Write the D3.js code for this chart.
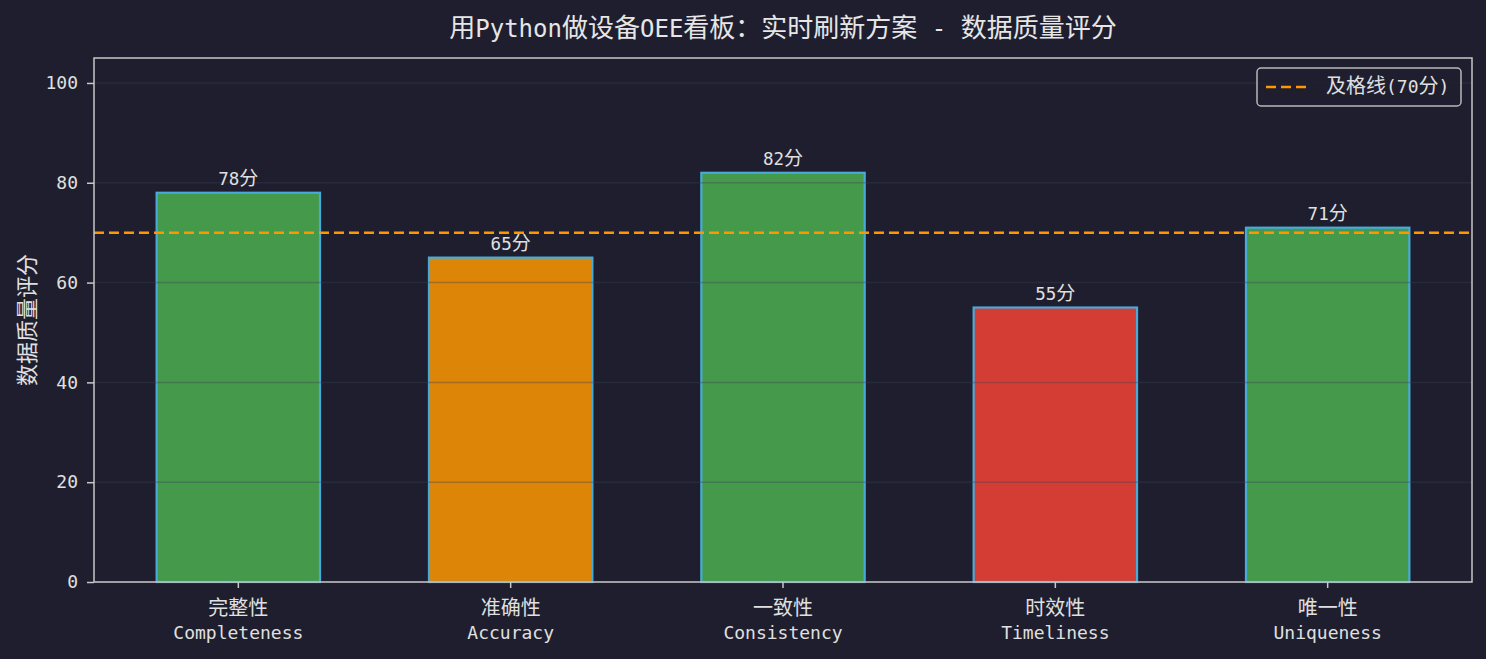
<!DOCTYPE html>
<html>
<head>
<meta charset="utf-8">
<script src="https://cdn.jsdelivr.net/npm/d3@7"></script>
<style>
  html, body { margin: 0; padding: 0; background: #1e1e2e; }
  svg { display: block; }
</style>
</head>
<body>
<div id="main"></div>
<script>
// chart data
const categoriesCn = ['完整性', '准确性', '一致性', '时效性', '唯一性'];
const categoriesEn = ['Completeness', 'Accuracy', 'Consistency', 'Timeliness', 'Uniqueness'];
const scores = [78, 65, 82, 55, 71];
const passLine = 70;
const yTicks = [0, 20, 40, 60, 80, 100];

const titleText = '用Python做设备OEE看板：实时刷新方案 - 数据质量评分';
const yLabelText = '数据质量评分';
const legendText = '及格线(70分)';

const width = 1486, height = 659;
const margin = { top: 58, right: 14, bottom: 77, left: 94 };
const plotW = width - margin.left - margin.right;
const plotH = height - margin.top - margin.bottom;

const textColor = '#e0e0e0';
const spineColor = '#c8c8c8';
const latinFont = '"DejaVu Sans Mono", monospace';
const cjkFont = '"Noto Sans CJK SC", sans-serif';

// colour by score band
function scoreColor(v) {
    if (v >= 70) return '#4CAF50';
    if (v >= 60) return '#FF9800';
    return '#F44336';
}

// write a string as tspans, CJK runs and latin runs get their own font
function mixText(sel, str, cjkSize, latinSize) {
    const parts = str.split(/([\x00-\x7F]+)/).filter(s => s.length);
    parts.forEach(p => {
        const latin = /^[\x00-\x7F]+$/.test(p);
        sel.append('tspan')
            .attr('font-family', latin ? latinFont : cjkFont)
            .attr('font-size', latin ? latinSize : cjkSize)
            .text(p);
    });
    return sel;
}

const svg = d3.select('#main')
    .append('svg')
    .attr('width', width)
    .attr('height', height)
    .style('background', '#1e1e2e');

const g = svg.append('g')
    .attr('transform', `translate(${margin.left},${margin.top})`);

const xScale = d3.scaleBand()
    .domain(d3.range(scores.length))
    .range([0, plotW])
    .paddingInner(0.4)
    .paddingOuter(0.23);

const yScale = d3.scaleLinear()
    .domain([0, 105])
    .range([plotH, 0]);

// bars
g.selectAll('rect.bar')
    .data(scores)
    .enter()
    .append('rect')
    .attr('class', 'bar')
    .attr('x', (d, i) => xScale(i))
    .attr('y', d => yScale(d))
    .attr('width', xScale.bandwidth())
    .attr('height', d => yScale(0) - yScale(d))
    .attr('fill', d => scoreColor(d))
    .attr('stroke', '#4FC3F7')
    .attr('stroke-width', 2.2)
    .attr('opacity', 0.85);

// grid lines (drawn over the bars)
g.selectAll('line.grid')
    .data(yTicks)
    .enter()
    .append('line')
    .attr('class', 'grid')
    .attr('x1', 0)
    .attr('x2', plotW)
    .attr('y1', d => yScale(d))
    .attr('y2', d => yScale(d))
    .attr('stroke', '#404055')
    .attr('stroke-opacity', 0.35)
    .attr('stroke-width', 1.5);

// pass line
g.append('line')
    .attr('x1', 0)
    .attr('x2', plotW)
    .attr('y1', yScale(passLine))
    .attr('y2', yScale(passLine))
    .attr('stroke', '#FF9800')
    .attr('stroke-width', 2.5)
    .attr('stroke-dasharray', '10,5');

// value labels
g.selectAll('text.value')
    .data(scores)
    .enter()
    .append('text')
    .attr('class', 'value')
    .attr('x', (d, i) => xScale(i) + xScale.bandwidth() / 2)
    .attr('y', d => yScale(d) - 8)
    .attr('text-anchor', 'middle')
    .attr('fill', textColor)
    .each(function (d) { mixText(d3.select(this), d + '分', 19, 17.5); });

// axes
const yAxis = g.append('g')
    .call(d3.axisLeft(yScale).tickValues(yTicks).tickSize(7).tickPadding(9));
yAxis.select('.domain').remove();
yAxis.selectAll('line').attr('stroke', spineColor).attr('stroke-width', 1.5);
yAxis.selectAll('text')
    .attr('fill', textColor)
    .attr('font-family', latinFont)
    .attr('font-size', 18);

const xAxis = g.append('g')
    .attr('transform', `translate(0,${plotH})`)
    .call(d3.axisBottom(xScale).tickSize(6).tickFormat(''));
xAxis.select('.domain').remove();
xAxis.selectAll('line').attr('stroke', spineColor).attr('stroke-width', 1.5);
xAxis.selectAll('.tick').each(function (d) {
    const t = d3.select(this);
    t.append('text')
        .attr('y', 26)
        .attr('dy', '0.35em')
        .attr('text-anchor', 'middle')
        .attr('fill', textColor)
        .attr('font-family', cjkFont)
        .attr('font-size', 20)
        .text(categoriesCn[d]);
    t.append('text')
        .attr('y', 51)
        .attr('dy', '0.35em')
        .attr('text-anchor', 'middle')
        .attr('fill', textColor)
        .attr('font-family', latinFont)
        .attr('font-size', 18)
        .text(categoriesEn[d]);
});

// frame
g.append('rect')
    .attr('width', plotW)
    .attr('height', plotH)
    .attr('fill', 'none')
    .attr('stroke', spineColor)
    .attr('stroke-width', 1.5);

// title
mixText(svg.append('text')
    .attr('x', margin.left + plotW / 2)
    .attr('y', 37)
    .attr('text-anchor', 'middle')
    .attr('fill', '#e6e6e6'), titleText, 26, 24);

// y label
svg.append('text')
    .attr('transform', `translate(27,${margin.top + plotH / 2}) rotate(-90)`)
    .attr('text-anchor', 'middle')
    .attr('dy', '0.35em')
    .attr('fill', textColor)
    .attr('font-family', cjkFont)
    .attr('font-size', 22)
    .text(yLabelText);

// legend
const legend = svg.append('g').attr('transform', 'translate(1257,68)');
legend.append('rect')
    .attr('width', 204)
    .attr('height', 38)
    .attr('rx', 4)
    .attr('fill', '#1e1e2e')
    .attr('fill-opacity', 0.8)
    .attr('stroke', '#b8b8b8')
    .attr('stroke-width', 1.5);
legend.append('line')
    .attr('x1', 9)
    .attr('x2', 52)
    .attr('y1', 19)
    .attr('y2', 19)
    .attr('stroke', '#FF9800')
    .attr('stroke-width', 2.5)
    .attr('stroke-dasharray', '10,5');
mixText(legend.append('text')
    .attr('x', 69)
    .attr('y', 19)
    .attr('dy', '0.35em')
    .attr('fill', textColor), legendText, 20, 18);
</script>
</body>
</html>
